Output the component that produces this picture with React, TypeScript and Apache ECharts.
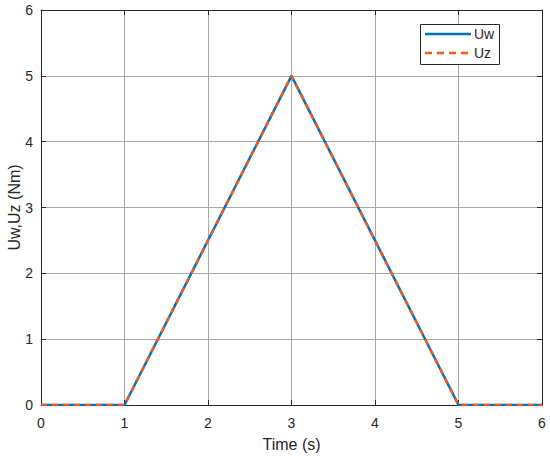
import React, { useEffect, useRef } from "react";
import * as echarts from "echarts";

const timeValues = [0, 1, 3, 5, 6];
const uwValues = [0, 0, 5, 0, 0];
const uzValues = [0, 0, 5, 0, 0];
const xTicks = [0, 1, 2, 3, 4, 5, 6];
const yTicks = [0, 1, 2, 3, 4, 5, 6];
const legendNames = ["Uw", "Uz"];

const FONT = "'Liberation Sans', Arial, Helvetica, sans-serif";
const AXIS_COLOR = "#262626";
const BLUE = "#0072BD";
const ORANGE = "#F05A1E";

export default function App() {
  const ref = useRef<HTMLDivElement>(null);
  useEffect(() => {
    if (!ref.current) return;
    const chart = echarts.init(ref.current, undefined, { renderer: "svg" });
    const uw = timeValues.map((t, i) => [t, uwValues[i]]);
    const uz = timeValues.map((t, i) => [t, uzValues[i]]);
    const baseX = { min: xTicks[0], max: xTicks[xTicks.length - 1], interval: 1 };
    const baseY = { min: yTicks[0], max: yTicks[yTicks.length - 1], interval: 1 };
    const lineAxis = { show: true, onZero: false, lineStyle: { color: AXIS_COLOR, width: 1 } };
    const tick = { show: true, inside: true, length: 5, lineStyle: { color: AXIS_COLOR } };
    chart.setOption({
      animation: false,
      backgroundColor: "#ffffff",
      grid: { left: 41, right: 8, top: 10, bottom: 52, containLabel: false, outerBoundsMode: "none" },
      xAxis: [
        {
          type: "value",
          ...baseX,
          name: "Time (s)",
          nameLocation: "middle",
          nameGap: 31,
          nameMoveOverlap: false,
          nameTextStyle: { color: AXIS_COLOR, fontFamily: FONT, fontSize: 16 },
          axisLine: lineAxis,
          axisTick: tick,
          axisLabel: { color: AXIS_COLOR, fontFamily: FONT, fontSize: 14, margin: 11 },
          splitLine: { show: true, lineStyle: { color: "#a8a8a8", width: 1 } },
        },
        {
          type: "value",
          ...baseX,
          position: "top",
          axisLine: lineAxis,
          axisTick: tick,
          axisLabel: { show: false },
          splitLine: { show: false },
        },
      ],
      yAxis: [
        {
          type: "value",
          ...baseY,
          name: "Uw,Uz (Nm)",
          nameLocation: "middle",
          nameGap: 19,
          nameMoveOverlap: false,
          nameTextStyle: { color: AXIS_COLOR, fontFamily: FONT, fontSize: 16 },
          axisLine: lineAxis,
          axisTick: tick,
          axisLabel: { color: AXIS_COLOR, fontFamily: FONT, fontSize: 14, margin: 8 },
          splitLine: { show: true, lineStyle: { color: "#a8a8a8", width: 1 } },
        },
        {
          type: "value",
          ...baseY,
          position: "right",
          axisLine: lineAxis,
          axisTick: tick,
          axisLabel: { show: false },
          splitLine: { show: false },
        },
      ],
      graphic: [
        {
          type: "rect",
          shape: { x: 420.5, y: 24.5, width: 79, height: 40 },
          style: { fill: "#ffffff", stroke: AXIS_COLOR, lineWidth: 1 },
          z: 100,
        },
        {
          type: "line",
          shape: { x1: 425, y1: 34, x2: 471, y2: 34 },
          style: { stroke: BLUE, lineWidth: 2.5 },
          z: 101,
        },
        {
          type: "line",
          shape: { x1: 425, y1: 53, x2: 471, y2: 53 },
          style: { stroke: ORANGE, lineWidth: 2.5, lineDash: [7, 5] },
          z: 101,
        },
        {
          type: "text",
          x: 474,
          y: 34,
          style: { text: legendNames[0], fill: AXIS_COLOR, font: `14px ${FONT}`, verticalAlign: "middle" },
          z: 101,
        },
        {
          type: "text",
          x: 474,
          y: 53,
          style: { text: legendNames[1], fill: AXIS_COLOR, font: `14px ${FONT}`, verticalAlign: "middle" },
          z: 101,
        },
      ],
      series: [
        {
          name: legendNames[0],
          type: "line",
          data: uw,
          symbol: "none",
          lineStyle: { color: BLUE, width: 2.5, type: "solid" },
          itemStyle: { color: BLUE },
          z: 2,
        },
        {
          name: legendNames[1],
          type: "line",
          data: uz,
          symbol: "none",
          lineStyle: { color: ORANGE, width: 2.5, type: [6, 5] },
          itemStyle: { color: ORANGE },
          z: 3,
        },
      ],
    });
    return () => chart.dispose();
  }, []);
  return (
    <div
      ref={ref}
      style={{ position: "absolute", left: 0, top: 0, width: 550, height: 457 }}
    />
  );
}
